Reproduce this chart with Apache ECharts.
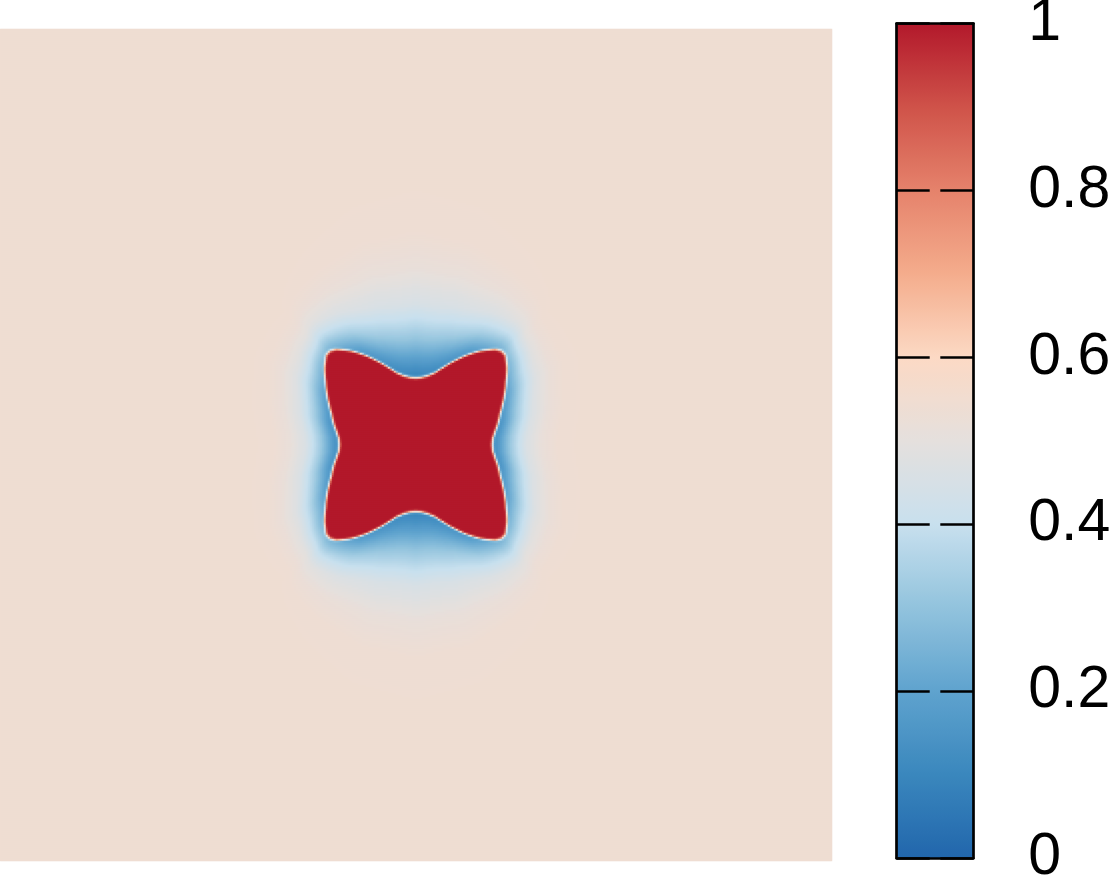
<!DOCTYPE html>
<html><head><meta charset="utf-8">
<script src="https://cdn.jsdelivr.net/npm/echarts@6/dist/echarts.min.js"></script>
<style>html,body{margin:0;padding:0;background:#fff;}#chart{width:1114px;height:882px;}</style>
</head><body><div id="chart"></div>
<script>
// Field domain: 100 x 100 units, star centred at (50, 50)
const gridCells = 416;
const superSample = 2;
const centerX = 50, centerY = 50;
const backgroundValue = 0.545;
// star boundary radius (units) by angle (deg, first quadrant, mirrored)
const boundaryAngles = [0,5,10,15,20,25,30,35,40,45,47.5,50,55,60,65,70,75,80,85,90];
const boundaryRadius = [9.17,9.29,9.70,10.24,10.77,11.49,12.33,13.22,14.30,15.20,15.25,14.95,13.77,12.46,11.14,9.94,8.95,8.41,8.11,8.02];
// halo: decay length (units) and value just outside the interface, by angle
const haloAngles = [0,15,30,45,60,75,90];
const haloLength = [3.73,3.9,3.9,3.1,5.6,7.9,8.6];
const haloInner = [0.13,0.15,0.2,0.29,0.17,0.12,0.10];
// interface profile: signed distance (units) -> fraction towards inner halo value
const edgeDistance = [-0.36,-0.18,-0.06,0.06,0.18,0.3];
const edgeWeight = [0,0.04,0.3,0.62,0.9,1];
// halo decay shape: normalised distance -> remaining depth
const haloT = [0,0.1,0.25,0.5,0.75,1,1.5,2,3];
const haloDepth = [1,0.93,0.79,0.55,0.365,0.21,0.07,0.016,0];
// colour bar
const colorbarTicks = [0,0.2,0.4,0.6,0.8,1];
const colorbarLabels = ['0','0.2','0.4','0.6','0.8','1'];
const colorStops = ['#2166AC','#3A87BD','#5FA3CE','#92C3DD','#C8E0EE','#E5E0DD','#FCD9C4','#F4AC8C','#E5826B','#CF5249','#B2182B'];

function interp(xs, ys, x){
  if (x <= xs[0]) return ys[0];
  const n = xs.length;
  if (x >= xs[n-1]) return ys[n-1];
  for (let k=1;k<n;k++){
    if (x <= xs[k]){
      const f=(x-xs[k-1])/(xs[k]-xs[k-1]);
      return ys[k-1]+f*(ys[k]-ys[k-1]);
    }
  }
  return ys[n-1];
}
function fieldAt(x,y){
  const dx=x-centerX, dy=centerY-y;
  const r=Math.hypot(dx,dy);
  const th=Math.atan2(Math.abs(dy),Math.abs(dx))*180/Math.PI;
  const R=interp(boundaryAngles,boundaryRadius,th);
  const d=r-R;
  const v0=interp(haloAngles,haloInner,th);
  const dEnd=edgeDistance[edgeDistance.length-1];
  if (d<=dEnd){
    const w=interp(edgeDistance,edgeWeight,d);
    return 1+(v0-1)*w;
  }
  const L=interp(haloAngles,haloLength,th);
  const g=interp(haloT,haloDepth,(d-dEnd)/L);
  return backgroundValue-(backgroundValue-v0)*g;
}
const cats=[]; for(let i=0;i<gridCells;i++) cats.push(i);
const step=100/gridCells;
const data=[];
for(let j=0;j<gridCells;j++){
  for(let i=0;i<gridCells;i++){
    let s=0;
    for(let a=0;a<superSample;a++) for(let b=0;b<superSample;b++){
      s+=fieldAt((i+(a+0.5)/superSample)*step,(j+(b+0.5)/superSample)*step);
    }
    data.push([i,j,+(s/(superSample*superSample)).toFixed(4)]);
  }
}
const black={color:'#000',width:2.7};
const frameX=(pos)=>({type:'value',gridIndex:1,min:0,max:1,position:pos,z:10,
  axisLine:{show:true,onZero:false,lineStyle:black},axisTick:{show:false},axisLabel:{show:false},splitLine:{show:false}});
const frameY=(pos,labels)=>({type:'value',gridIndex:1,min:colorbarTicks[0],max:colorbarTicks[colorbarTicks.length-1],interval:0.2,position:pos,z:10,
  axisLine:{show:true,onZero:false,lineStyle:black},
  axisTick:{show:true,inside:true,length:33,lineStyle:black},
  axisLabel:{show:labels,margin:55,fontSize:59,color:'#000',fontFamily:'Liberation Sans, Arial, sans-serif',
    formatter:(v)=>colorbarLabels[Math.round(v/0.2)]},
  splitLine:{show:false}});
const chart=echarts.init(document.getElementById('chart'),null,{renderer:'canvas'});
chart.setOption({
  animation:false,
  backgroundColor:'#fff',
  grid:[{left:0,top:29,width:832,height:832,outerBoundsMode:'none',containLabel:false},
        {left:896.7,top:23.5,width:76.6,height:834.5,outerBoundsMode:'none',containLabel:false}],
  xAxis:[{type:'category',gridIndex:0,data:cats,show:false},frameX('bottom'),frameX('top')],
  yAxis:[{type:'category',gridIndex:0,data:cats,inverse:true,show:false},frameY('left',false),frameY('right',true)],
  visualMap:{type:'continuous',min:0,max:1,seriesIndex:0,inRange:{color:colorStops},z:1,
    left:897,top:23,itemWidth:76,itemHeight:835,padding:0,calculable:false,hoverLink:false},
  series:[{type:'heatmap',xAxisIndex:0,yAxisIndex:0,data:data,progressive:0,
    emphasis:{disabled:true},itemStyle:{borderWidth:0}}]
});
</script></body></html>
